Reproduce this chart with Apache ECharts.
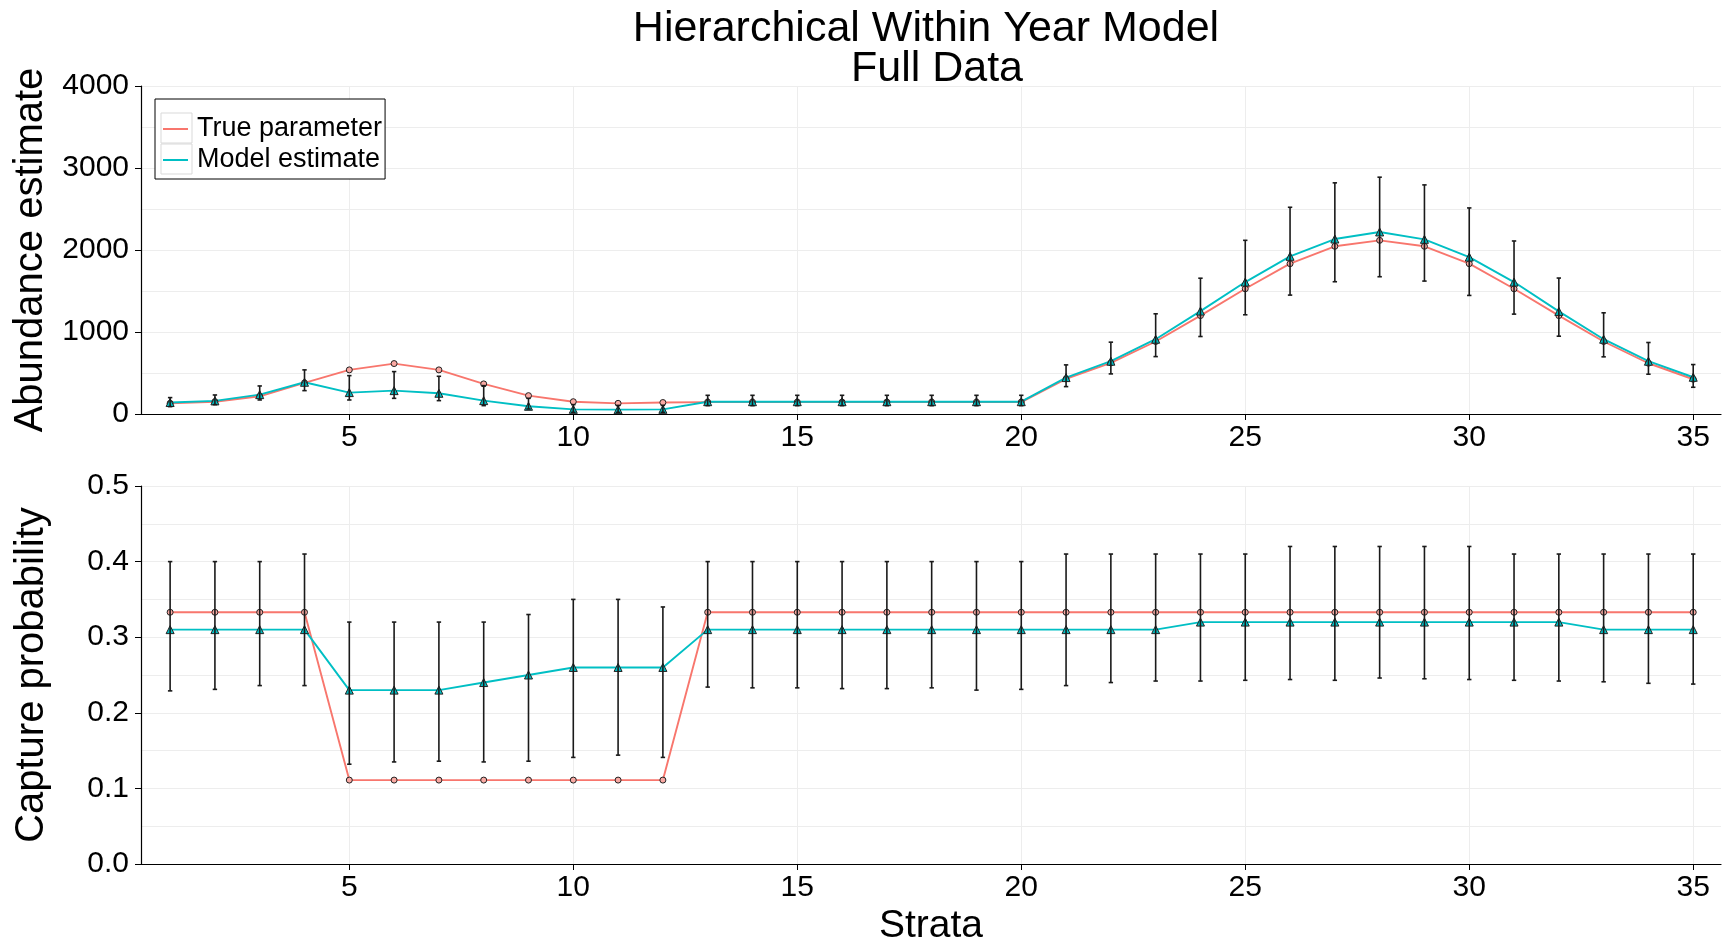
<!DOCTYPE html>
<html>
<head>
<meta charset="utf-8">
<script src="https://cdn.jsdelivr.net/npm/echarts@6/dist/echarts.min.js"></script>
<style>
html,body{margin:0;padding:0;background:#fff;}
#chart{width:1735px;height:947px;}
</style>
</head>
<body>
<div id="chart"></div>
<script>
// ---- data ----
const strata = [1,2,3,4,5,6,7,8,9,10,11,12,13,14,15,16,17,18,19,20,21,22,23,24,25,26,27,28,29,30,31,32,33,34,35];
const xTickValues = [5,10,15,20,25,30,35];

// Abundance (top panel)
const trueN  = [130,150,216,379,538,615,538,367,224,150,130,140,145,145,145,145,145,145,145,145,428,623,884,1200,1527,1833,2045,2118,2045,1833,1527,1200,884,619,424];
const modelN = [140,160,236,387,261,285,253,163,94,57,53,57,150,150,150,150,150,150,150,150,444,644,912,1255,1609,1923,2134,2220,2130,1914,1609,1251,912,644,448];
const lowerN = [90,114,171,285,171,191,163,102,61,20,20,20,102,102,102,102,102,102,102,102,334,489,700,945,1210,1450,1613,1674,1621,1446,1218,949,697,485,326];
const upperN = [200,232,342,538,468,517,460,346,191,114,105,105,228,228,228,228,228,228,228,228,599,876,1222,1656,2118,2521,2819,2888,2794,2513,2110,1658,1234,872,603];

// Capture probability (bottom panel)
const trueP  = [0.333,0.333,0.333,0.333,0.111,0.111,0.111,0.111,0.111,0.111,0.111,0.111,0.333,0.333,0.333,0.333,0.333,0.333,0.333,0.333,0.333,0.333,0.333,0.333,0.333,0.333,0.333,0.333,0.333,0.333,0.333,0.333,0.333,0.333,0.333];
const modelP = [0.31,0.31,0.31,0.31,0.23,0.23,0.23,0.24,0.25,0.26,0.26,0.26,0.31,0.31,0.31,0.31,0.31,0.31,0.31,0.31,0.31,0.31,0.31,0.32,0.32,0.32,0.32,0.32,0.32,0.32,0.32,0.32,0.31,0.31,0.31];
const lowerP = [0.229,0.231,0.236,0.236,0.132,0.135,0.136,0.135,0.136,0.141,0.144,0.141,0.234,0.233,0.233,0.232,0.232,0.233,0.230,0.231,0.236,0.240,0.242,0.242,0.243,0.244,0.243,0.246,0.245,0.244,0.243,0.242,0.241,0.239,0.238];
const upperP = [0.40,0.40,0.40,0.41,0.32,0.32,0.32,0.32,0.33,0.35,0.35,0.34,0.40,0.40,0.40,0.40,0.40,0.40,0.40,0.40,0.41,0.41,0.41,0.41,0.41,0.42,0.42,0.42,0.42,0.42,0.41,0.41,0.41,0.41,0.41];

const seriesNames = ['True parameter','Model estimate'];
const titleLine1 = 'Hierarchical Within Year Model';
const titleLine2 = 'Full Data';

// ---- styling ----
const FONT = 'Liberation Sans, Arial, sans-serif';
const RED = '#F8766D', CYAN = '#00BFC4';
const GRID_COLOR = '#ededed';

function zip(a,b){ return a.map((v,i)=>[v,b[i]]); }
function zip3(a,b,c){ return a.map((v,i)=>[v,b[i],c[i]]); }

function errRender(params, api){
  const x = api.value(0);
  const lo = api.coord([x, api.value(1)]);
  const hi = api.coord([x, api.value(2)]);
  const w = 2.2;
  const st = {stroke:'#1a1a1a', lineWidth:1.6};
  return {type:'group', children:[
    {type:'line', shape:{x1:lo[0],y1:lo[1],x2:hi[0],y2:hi[1]}, style:st},
    {type:'line', shape:{x1:lo[0]-w,y1:lo[1],x2:lo[0]+w,y2:lo[1]}, style:st},
    {type:'line', shape:{x1:hi[0]-w,y1:hi[1],x2:hi[0]+w,y2:hi[1]}, style:st}
  ]};
}

function xAxisCfg(gi, withName){
  return {
    type:'value', gridIndex:gi, min:0.35, max:35.62,
    axisLine:{show:true, onZero:false, lineStyle:{color:'#000', width:1.2}},
    axisTick:{show:true, length:6, customValues:xTickValues, lineStyle:{color:'#000'}},
    axisLabel:{customValues:xTickValues, fontSize:30, fontFamily:FONT, color:'#000', margin:9},
    splitLine:{show:false},
    name: withName ? 'Strata' : '',
    nameLocation:'middle', nameGap:43,
    nameTextStyle:{fontSize:39, fontFamily:FONT, color:'#000'}
  };
}
function yAxisCfg(gi, name, max, interval, fmt){
  return {
    type:'value', gridIndex:gi, min:0, max:max, interval:interval,
    axisLine:{show:true, lineStyle:{color:'#000', width:1.2}},
    axisTick:{show:true, length:6, lineStyle:{color:'#000'}},
    axisLabel:{fontSize:30, fontFamily:FONT, color:'#000', margin:12, formatter:fmt},
    splitLine:{show:true, lineStyle:{color:GRID_COLOR, width:1}},
    minorTick:{show:false, splitNumber:2},
    minorSplitLine:{show:true, lineStyle:{color:GRID_COLOR, width:1}},
    name:name, nameLocation:'middle', nameGap:89,
    nameTextStyle:{fontSize:40, fontFamily:FONT, color:'#000'}
  };
}

function vGrid(xi, yi){
  return {
    type:'line', xAxisIndex:xi, yAxisIndex:yi, data:[], silent:true, z:0,
    markLine:{silent:true, symbol:['none','none'], z:0, label:{show:false},
      lineStyle:{color:GRID_COLOR, type:'solid', width:1},
      data:xTickValues.map(v=>({xAxis:v}))}
  };
}

function lineSeries(name, data, xi, yi, color, symbol, size, fill){
  return {
    type:'line', name:name, xAxisIndex:xi, yAxisIndex:yi, data:data,
    symbol:symbol, symbolSize:size, showSymbol:true, z:2,
    lineStyle:{color:color, width:1.9},
    itemStyle:{color:fill, borderColor:'#222', borderWidth:1},
    emphasis:{disabled:true}, animation:false
  };
}

const titleStyle = {fontSize:43, fontWeight:'normal', fontFamily:FONT, color:'#000', lineHeight:40};

const option = {
  animation:false,
  backgroundColor:'#fff',
  title:[
    {text:titleLine1, left:926, top:9, textAlign:'center', padding:0, textStyle:titleStyle},
    {text:titleLine2, left:937, top:49, textAlign:'center', padding:0, textStyle:titleStyle}
  ],
  legend:{
    orient:'vertical', left:155, top:99,
    data:[
      {name:seriesNames[0], itemStyle:{color:RED, borderWidth:0}},
      {name:seriesNames[1], itemStyle:{color:CYAN, borderWidth:0}}
    ],
    icon:'rect', itemWidth:25, itemHeight:2, itemGap:3,
    padding:[16,3,5,8],
    borderColor:'#000', borderWidth:1, backgroundColor:'#fff',
    textStyle:{fontSize:27, fontFamily:FONT, color:'#000', lineHeight:28, padding:[0,0,0,4]},
    selectedMode:false
  },
  grid:[
    {left:141, right:14, top:86, height:328},
    {left:141, right:14, top:486, height:379}
  ],
  xAxis:[ xAxisCfg(0,false), xAxisCfg(1,true) ],
  yAxis:[
    yAxisCfg(0,'Abundance estimate',4000,1000,v=>String(v)),
    yAxisCfg(1,'Capture probability',0.5,0.1,v=>v.toFixed(1))
  ],
  series:[
    vGrid(0,0), vGrid(1,1),
    lineSeries(seriesNames[0], zip(strata,trueN), 0,0, RED, 'circle', 6, '#F9A9A3'),
    lineSeries(seriesNames[1], zip(strata,modelN), 0,0, CYAN, 'triangle', 8, CYAN),
    {type:'custom', xAxisIndex:0, yAxisIndex:0, data:zip3(strata,lowerN,upperN),
      encode:{x:0, y:[1,2]}, renderItem:errRender, z:3, clip:false, silent:true},
    lineSeries(seriesNames[0], zip(strata,trueP), 1,1, RED, 'circle', 6, '#F9A9A3'),
    lineSeries(seriesNames[1], zip(strata,modelP), 1,1, CYAN, 'triangle', 8, CYAN),
    {type:'custom', xAxisIndex:1, yAxisIndex:1, data:zip3(strata,lowerP,upperP),
      encode:{x:0, y:[1,2]}, renderItem:errRender, z:3, clip:false, silent:true}
  ],
  graphic:[
    {type:'rect', shape:{x:161, y:113, width:31, height:30}, style:{fill:'none', stroke:'#d9d9d9', lineWidth:1}, z:200},
    {type:'rect', shape:{x:161, y:144, width:31, height:30}, style:{fill:'none', stroke:'#d9d9d9', lineWidth:1}, z:200}
  ]
};

const chart = echarts.init(document.getElementById('chart'), null, {renderer:'canvas'});
chart.setOption(option);
</script>
</body>
</html>
